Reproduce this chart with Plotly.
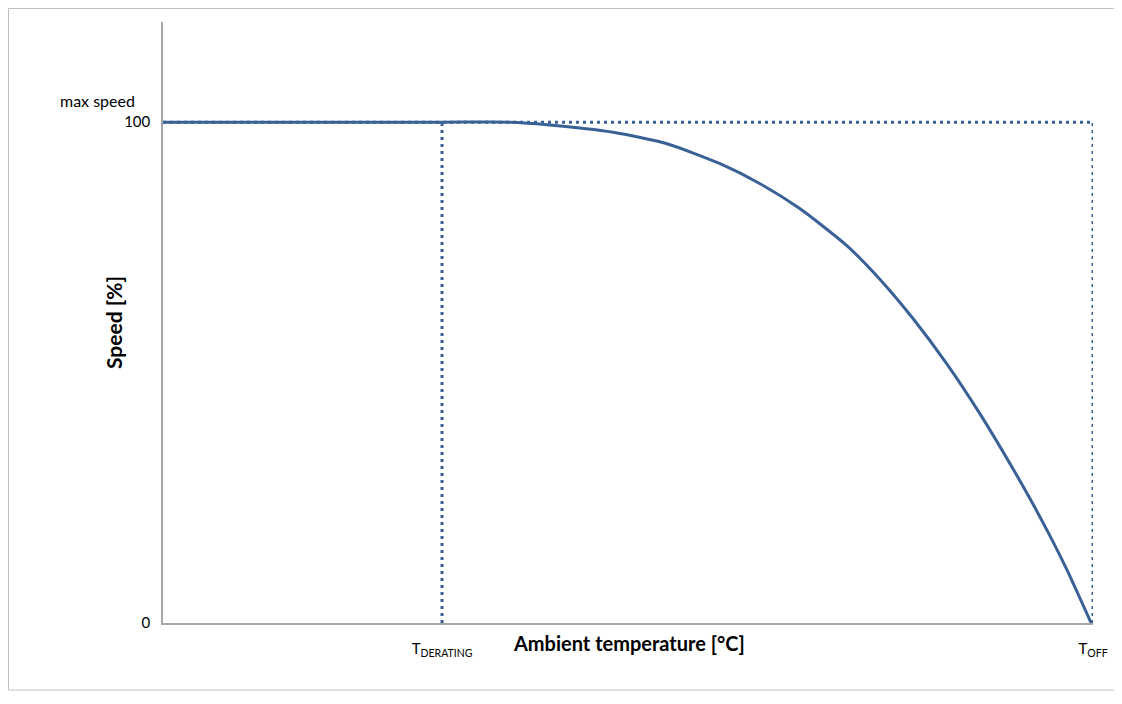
import plotly.graph_objects as go

# Data (x in % of the scale between axis origin and T_OFF)
temp = [0, 30, 37.3, 41.3, 48.4, 54.2, 59.9, 64.2, 68.5, 73.5, 77.1, 80.6, 84.3, 87.8, 91.8, 93.5, 95.4, 97.2, 99.8]
speed = [100, 100, 100, 99.5, 98.0, 95.7, 91.7, 87.7, 82.7, 75.4, 68.6, 60.9, 51.7, 41.9, 29.5, 23.9, 17.3, 10.6, 0]
t_derating = 30
t_off = 100
max_speed = 100
x_tick_vals = [t_derating, t_off]
x_tick_text = ["T<sub>DERATING</sub>", "T<sub>OFF</sub>"]
y_tick_vals = [0, 100]
y_tick_text = ["0", "100"]

blue = "#3A6196"
font = "Lato, 'Open Sans', sans-serif"

# page has an 8px body margin; figure pixel = page pixel - 8
W, H = 1114, 696
L, R, T, B = 155, 29, 14, 81
PW, PH = W - L - R, H - T - B


def px(xp):
    return (xp - 8 - L) / PW


def py(yp):
    return 1 - (yp - 8 - T) / PH


fig = go.Figure()
dot = dict(color=blue, width=3, dash="3px,4px")
fig.add_trace(go.Scatter(x=[0, t_off], y=[max_speed, max_speed], mode="lines", line=dot, hoverinfo="skip"))
fig.add_trace(go.Scatter(x=[t_derating, t_derating], y=[0, max_speed], mode="lines", line=dot, hoverinfo="skip"))
fig.add_trace(go.Scatter(x=[t_off, t_off], y=[0, max_speed], mode="lines", line=dot, hoverinfo="skip"))
fig.add_trace(go.Scatter(x=temp, y=speed, mode="lines", line=dict(color=blue, width=3, shape="spline", smoothing=0.6)))

fig.update_layout(
    width=W, height=H,
    margin=dict(l=L, r=R, t=T, b=B),
    paper_bgcolor="white", plot_bgcolor="white",
    showlegend=False,
    font=dict(family=font, size=15, color="#000000"),
    xaxis=dict(range=[0, 100], showgrid=False, zeroline=False, showline=True,
               linecolor="#A6A6A6", linewidth=1.5, tickvals=x_tick_vals, ticktext=x_tick_text,
               ticks="outside", ticklen=11, tickcolor="rgba(0,0,0,0)", tickfont=dict(size=15)),
    yaxis=dict(range=[0, 120], showgrid=False, zeroline=False, showline=True,
               linecolor="#A6A6A6", linewidth=1.5, tickvals=y_tick_vals, ticktext=y_tick_text,
               ticks="outside", ticklen=8, tickcolor="rgba(0,0,0,0)", tickfont=dict(size=15)),
)

fig.add_annotation(text="max speed", xref="paper", yref="paper", x=px(97), y=py(100),
                   showarrow=False, font=dict(size=16), xanchor="center", yanchor="middle")
fig.add_annotation(text="<b>Ambient temperature [°C]</b>", xref="paper", yref="paper",
                   x=px(629), y=py(643), showarrow=False, font=dict(size=20),
                   xanchor="center", yanchor="middle")
fig.add_annotation(text="<b>Speed [%]</b>", xref="paper", yref="paper",
                   x=px(113), y=py(323), showarrow=False, font=dict(size=21), textangle=-90,
                   xanchor="center", yanchor="middle")

# outer border
fig.add_shape(type="rect", xref="paper", yref="paper",
              x0=px(8.5), x1=px(1120), y0=py(690), y1=py(8.5),
              line=dict(color="#BFBFBF", width=1), fillcolor="rgba(0,0,0,0)")

fig.write_html("out.html")
